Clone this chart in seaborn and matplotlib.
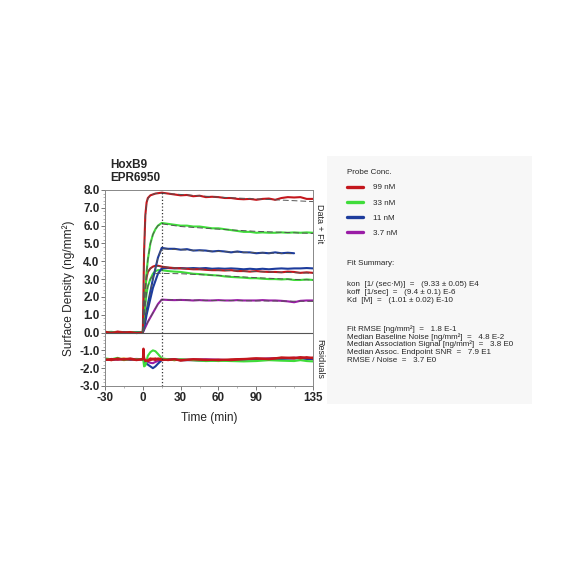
import numpy as np
import pandas as pd
import seaborn as sns
import matplotlib.pyplot as plt
from matplotlib.lines import Line2D
from matplotlib.ticker import MultipleLocator

sns.set_theme(style="white")
plt.rcParams['font.family'] = ['Liberation Sans', 'DejaVu Sans']
plt.rcParams['axes.unicode_minus'] = False

# time grid (min)
t = [-30, -25, -20, -15, -10, -5, 0, 1, 2, 3, 4, 6, 8, 10, 12, 15,
     20, 25, 30, 35, 40, 45, 50, 55, 60, 65, 70, 75, 80, 85, 90, 95,
     100, 105, 110, 115, 120, 125, 130, 135]

# sensorgrams (ng/mm2), two replicate sets
red_hi = [0.05, -0.02, 0.04, 0.0, 0.03, -0.03, 0.0, 4.5, 6.6, 7.3, 7.55, 7.7, 7.75, 7.8, 7.82, 7.85,
          7.8, 7.75, 7.7, 7.72, 7.65, 7.68, 7.6, 7.62, 7.6, 7.55, 7.55, 7.5, 7.48, 7.5, 7.45, 7.5,
          7.52, 7.45, 7.55, 7.6, 7.58, 7.6, 7.5, 7.5]
green_hi = [0.04, 0.0, 0.03, -0.02, 0.02, 0.0, 0.0, 1.2, 2.4, 3.4, 4.1, 5.0, 5.5, 5.8, 6.0, 6.15,
            6.1, 6.05, 6.0, 6.0, 5.95, 5.95, 5.9, 5.85, 5.85, 5.8, 5.75, 5.7, 5.65, 5.65, 5.6, 5.62,
            5.6, 5.6, 5.62, 5.6, 5.62, 5.6, 5.62, 5.6]
blue_hi = [0.0, 0.02, -0.02, 0.01, 0.0, 0.02, 0.0, 0.4, 0.8, 1.2, 1.6, 2.3, 3.0, 3.6, 4.2, 4.75,
           4.7, 4.7, 4.65, 4.68, 4.6, 4.62, 4.6, 4.55, 4.58, 4.55, 4.5, 4.55, 4.5, 4.5, 4.45, 4.48,
           4.45, 4.5, 4.45, 4.48, 4.45]
purple = [0.0, 0.02, 0.0, -0.01, 0.01, 0.0, 0.0, 0.15, 0.3, 0.45, 0.6, 0.85, 1.1, 1.35, 1.6, 1.85,
          1.83, 1.82, 1.83, 1.82, 1.8, 1.82, 1.8, 1.8, 1.82, 1.8, 1.8, 1.82, 1.8, 1.8, 1.8, 1.82,
          1.8, 1.8, 1.78, 1.75, 1.7, 1.78, 1.8, 1.8]
red_lo = [0.03, 0.0, 0.05, 0.02, -0.02, 0.03, 0.0, 1.5, 2.5, 3.1, 3.4, 3.6, 3.7, 3.75, 3.75, 3.7,
          3.65, 3.62, 3.6, 3.58, 3.55, 3.55, 3.52, 3.5, 3.5, 3.48, 3.5, 3.45, 3.45, 3.42, 3.45, 3.42,
          3.4, 3.4, 3.38, 3.42, 3.4, 3.35, 3.38, 3.35]
green_lo = [0.02, 0.04, 0.0, 0.03, 0.0, 0.02, 0.0, 0.8, 1.6, 2.2, 2.6, 3.0, 3.3, 3.45, 3.5, 3.5,
            3.45, 3.42, 3.4, 3.35, 3.3, 3.28, 3.25, 3.22, 3.2, 3.15, 3.12, 3.1, 3.08, 3.05, 3.05, 3.02,
            3.0, 3.0, 2.98, 3.0, 2.95, 2.95, 2.98, 2.95]
blue_lo = [0.0, 0.01, 0.02, 0.0, 0.01, -0.01, 0.0, 0.3, 0.6, 1.0, 1.3, 1.9, 2.5, 2.9, 3.3, 3.6,
           3.62, 3.6, 3.62, 3.6, 3.62, 3.6, 3.62, 3.58, 3.6, 3.58, 3.6, 3.58, 3.55, 3.58, 3.55, 3.58,
           3.55, 3.58, 3.6, 3.58, 3.6, 3.6, 3.62, 3.6]

# global fits (dashed)
fit_t = [0, 1, 2, 3, 4, 6, 8, 10, 12, 15, 30, 60, 90, 120, 135]
fit_red_hi = [0.0, 4.4, 6.5, 7.2, 7.5, 7.7, 7.76, 7.8, 7.82, 7.82, 7.75, 7.6, 7.5, 7.4, 7.35]
fit_green_hi = [0.0, 1.3, 2.5, 3.4, 4.1, 5.0, 5.5, 5.8, 6.0, 6.1, 5.95, 5.8, 5.68, 5.6, 5.56]
fit_blue_hi = [0.0, 0.4, 0.8, 1.2, 1.6, 2.3, 3.0, 3.6, 4.2, 4.7, 4.65, 4.55, 4.48, 4.42]
fit_purple = [0.0, 0.15, 0.3, 0.45, 0.6, 0.85, 1.1, 1.35, 1.6, 1.85, 1.83, 1.8, 1.78, 1.76, 1.75]
fit_red_lo = [0.0, 1.5, 2.5, 3.1, 3.4, 3.6, 3.68, 3.72, 3.72, 3.7, 3.6, 3.5, 3.42, 3.36, 3.33]
fit_green_lo = [0.0, 0.9, 1.6, 2.2, 2.6, 3.0, 3.2, 3.3, 3.33, 3.32, 3.3, 3.2, 3.08, 2.98, 2.95]

# residuals, plotted offset by -1.5
res_t = [-30, -25, -20, -15, -10, -5, 0, 0.5, 1, 2, 4, 6, 8, 10, 12, 15, 20, 25, 30, 40, 50,
         60, 70, 80, 90, 100, 110, 120, 125, 130, 135]
res_green = [-1.45, -1.5, -1.42, -1.55, -1.48, -1.5, -1.5, -1.6, -1.9, -1.85, -1.3, -1.1, -1.0,
             -1.05, -1.2, -1.45, -1.5, -1.55, -1.5, -1.55, -1.6, -1.58, -1.6, -1.62, -1.6, -1.55,
             -1.58, -1.6, -1.55, -1.6, -1.62]
res_blue = [-1.5, -1.52, -1.48, -1.5, -1.52, -1.5, -1.5, -1.55, -1.6, -1.7, -1.8, -1.9, -2.0,
            -1.9, -1.75, -1.55, -1.5, -1.52, -1.55, -1.55, -1.58, -1.55, -1.55, -1.52, -1.5,
            -1.5, -1.48, -1.45, -1.45, -1.48, -1.5]
res_purple = [-1.5, -1.5, -1.52, -1.5, -1.5, -1.48, -1.5, -1.5, -1.55, -1.6, -1.65, -1.7, -1.72,
              -1.65, -1.6, -1.52, -1.5, -1.5, -1.52, -1.52, -1.5, -1.52, -1.55, -1.5, -1.48,
              -1.45, -1.45, -1.42, -1.4, -1.45, -1.45]
res_orange = [-1.48, -1.55, -1.5, -1.45, -1.52, -1.5, -1.5, -1.4, -1.5, -1.6, -1.55, -1.5,
              -1.45, -1.5, -1.55, -1.5, -1.5, -1.55, -1.52, -1.55, -1.55, -1.6, -1.55, -1.5,
              -1.5, -1.45, -1.42, -1.45, -1.4, -1.45, -1.5]
res_red_lo = [-1.55, -1.48, -1.52, -1.5, -1.45, -1.52, -1.5, -1.3, -1.5, -1.55, -1.6, -1.55,
              -1.5, -1.45, -1.5, -1.55, -1.52, -1.5, -1.55, -1.5, -1.52, -1.55, -1.5, -1.48,
              -1.45, -1.5, -1.42, -1.4, -1.45, -1.38, -1.45]
res_red_hi = [-1.5, -1.55, -1.45, -1.52, -1.5, -1.55, -1.5, -0.9, -1.4, -1.6, -1.55, -1.45,
              -1.5, -1.55, -1.45, -1.5, -1.55, -1.5, -1.58, -1.5, -1.55, -1.52, -1.55, -1.5,
              -1.45, -1.48, -1.4, -1.45, -1.38, -1.42, -1.4]

conc_labels = ["99 nM", "33 nM", "11 nM", "3.7 nM"]
conc_colors = ["#c3161c", "#3fdc3a", "#1d3c9c", "#9a1ca6"]
RED, GREEN, BLUE, PURPLE = conc_colors
ORANGE = "#e08a1e"
FIT = "#555555"

kin_lines = [
    "kon  [1/ (sec·M)]  =   (9.33 ± 0.05) E4",
    "koff  [1/sec]  =   (9.4 ± 0.1) E-6",
    "Kd  [M]  =   (1.01 ± 0.02) E-10",
]
qual_lines = [
    "Fit RMSE [ng/mm²]  =   1.8 E-1",
    "Median Baseline Noise [ng/mm²]  =   4.8 E-2",
    "Median Association Signal [ng/mm²]  =   3.8 E0",
    "Median Assoc. Endpoint SNR  =   7.9 E1",
    "RMSE / Noise  =   3.7 E0",
]

fig = plt.figure(figsize=(5.84, 5.84), dpi=100)
fig.patch.set_facecolor("white")

# info panel (behind)
pan = fig.add_axes([327 / 584, 1 - 404 / 584, 205 / 584, 248 / 584])
pan.set_facecolor("#f7f7f7")
pan.set_xticks([])
pan.set_yticks([])
for sp in pan.spines.values():
    sp.set_visible(False)

ax = fig.add_axes([105 / 584, 1 - 386 / 584, 208 / 584, 196 / 584])
ax.set_facecolor("white")

lw = 1.5
for res, c in [(res_orange, ORANGE), (res_purple, PURPLE), (res_blue, BLUE),
               (res_green, GREEN), (res_red_lo, RED), (res_red_hi, RED)]:
    sns.lineplot(x=res_t, y=res, color=c, lw=lw, ax=ax, estimator=None)

for vals, c in [(purple, PURPLE), (green_lo, GREEN), (blue_lo, BLUE), (red_lo, RED),
                (blue_hi, BLUE), (green_hi, GREEN), (red_hi, RED)]:
    sns.lineplot(x=t[:len(vals)], y=vals, color=c, lw=lw, ax=ax, estimator=None)

for fv in [fit_red_hi, fit_green_hi, fit_blue_hi, fit_purple, fit_red_lo, fit_green_lo]:
    sns.lineplot(x=fit_t[:len(fv)], y=fv, color=FIT, lw=0.7, ls=(0, (6, 3)), ax=ax,
                 estimator=None)

ax.axhline(0, color="#555555", lw=0.8)
ax.axvline(15, color="#333333", lw=0.9, ls=":")

ax.set_xlim(-30, 135)
ax.set_ylim(-3, 8)
ax.set_xticks([-30, 0, 30, 60, 90, 135])
ax.xaxis.set_minor_locator(MultipleLocator(15))
ax.yaxis.set_major_locator(MultipleLocator(1))
ax.yaxis.set_minor_locator(MultipleLocator(0.2))
ax.set_yticklabels([f"{v:.1f}" for v in ax.get_yticks()])
ax.tick_params(axis="both", which="major", direction="out", length=3, width=0.7,
               color="#777777", labelsize=8.4, pad=1, left=True, bottom=True)
ax.tick_params(axis="both", which="minor", direction="out", length=1.5, width=0.5,
               color="#999999", left=True, bottom=True)
for lab in ax.get_xticklabels() + ax.get_yticklabels():
    lab.set_fontweight("bold")
for sp in ax.spines.values():
    sp.set_color("#888888")
    sp.set_linewidth(0.7)

ax.set_xlabel("Time (min)", fontsize=8.6, labelpad=6)
ax.set_ylabel("Surface Density (ng/mm²)", fontsize=8.6, labelpad=3)
ax.text(1.012, 0.93, "Data + Fit", transform=ax.transAxes, rotation=-90,
        fontsize=6.5, va="top", ha="left")
ax.text(1.012, 0.24, "Residuals", transform=ax.transAxes, rotation=-90,
        fontsize=6.5, va="top", ha="left")

fig.text(110 / 584, 1 - 165 / 584, "HoxB9", fontsize=8.5, fontweight="bold", va="center")
fig.text(110 / 584, 1 - 178 / 584, "EPR6950", fontsize=8.5, fontweight="bold", va="center")

handles = [Line2D([], [], color=c, lw=2.4) for c in conc_colors]
leg = pan.legend(handles, conc_labels, title="Probe Conc.", loc="upper left",
                 bbox_to_anchor=(0.081, 0.96), frameon=False, fontsize=5.8,
                 title_fontsize=5.8, handlelength=2.0, handletextpad=1.3,
                 labelspacing=0.95, borderaxespad=0)
leg._legend_box.align = "left"

fig.text(347 / 584, 1 - 263 / 584, "Fit Summary:", fontsize=5.8, va="center")
for i, line in enumerate(kin_lines):
    fig.text(347 / 584, 1 - (285 + 8 * i) / 584, line, fontsize=5.8, va="center")
for i, line in enumerate(qual_lines):
    fig.text(347 / 584, 1 - (329 + 7.8 * i) / 584, line, fontsize=5.8, va="center")

fig.savefig("out.png", dpi=100)
